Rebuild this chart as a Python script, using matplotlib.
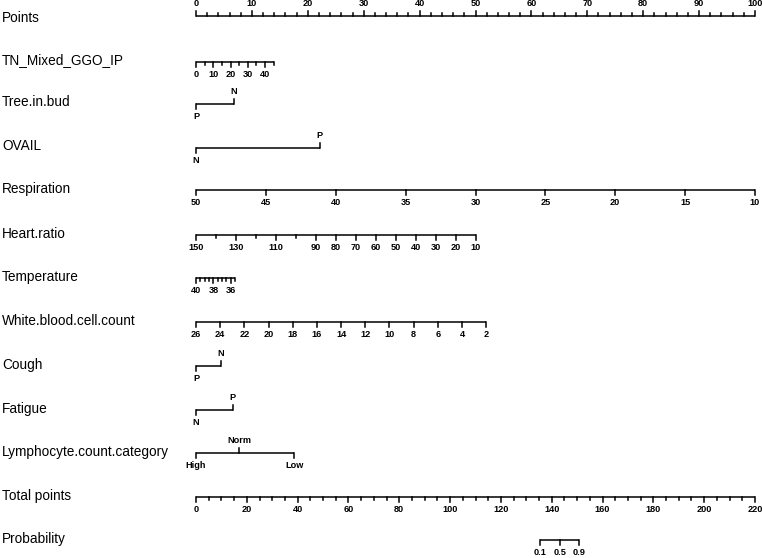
import matplotlib
matplotlib.use("Agg")
import matplotlib.pyplot as plt
import numpy as np

plt.rcParams["font.family"] = "Liberation Sans"

# ---- data ----
points_ticks = list(range(0, 101, 10))
points_minor = list(range(0, 101, 2))

tn_values = list(range(0, 46, 5)); tn_labels = [0, 10, 20, 30, 40]; tn_pts_end = (0.0, 13.9); tn_range = (0, 45)
tree_labels = ["P", "N"]; tree_pts = [0.0, 6.8]
ovail_labels = ["N", "P"]; ovail_pts = [0.0, 22.1]
resp_values = list(range(50, 9, -5)); resp_labels = list(range(50, 9, -5)); resp_range = (50, 10); resp_pts_end = (0.0, 100.0)
heart_values = list(range(150, 9, -10)); heart_labels = [150, 130, 110, 90, 80, 70, 60, 50, 40, 30, 20, 10]
heart_range = (150, 10); heart_pts_end = (0.0, 50.0)
temp_values = [40, 39.5, 39, 38.5, 38, 37.5, 37, 36.5, 36, 35.5]; temp_labels = [40, 38, 36]
temp_range = (40, 35.5); temp_pts_end = (0.0, 7.0)
wbc_values = list(range(26, 1, -2)); wbc_labels = list(range(26, 1, -2)); wbc_range = (26, 2); wbc_pts_end = (0.0, 51.9)
cough_labels = ["P", "N"]; cough_pts = [0.0, 4.5]
fatigue_labels = ["N", "P"]; fatigue_pts = [0.0, 6.6]
lymph_labels = ["High", "Norm", "Low"]; lymph_pts = [0.0, 7.7, 17.6]
total_ticks = list(range(0, 221, 20)); total_minor = list(range(0, 221, 5))
prob_labels = ["0.1", "0.5", "0.9"]; prob_total = [135.4, 143.2, 150.9]

row_names = ["Points", "TN_Mixed_GGO_IP", "Tree.in.bud", "OVAIL", "Respiration", "Heart.ratio",
             "Temperature", "White.blood.cell.count", "Cough", "Fatigue", "Lymphocyte.count.category",
             "Total points", "Probability"]

# ---- layout ----
fig = plt.figure(figsize=(7.62, 5.58), dpi=100)
ax = fig.add_axes([0, 0, 1, 1])
ax.set_xlim(0, 762); ax.set_ylim(558, 0); ax.axis("off")
X0, X1 = 196, 755
def px(p): return X0 + p * (X1 - X0) / 100.0
def tx(t): return X0 + t * (X1 - X0) / 220.0
row_y = [16, 62, 104, 148, 190, 235, 278, 322, 366, 410, 453, 497, 540]
label_y = [18, 60, 102, 146, 189, 234, 277, 321, 365, 409, 452, 496, 539]
LW = 1.1; TF = dict(fontsize=6.6, fontweight="bold", ha="center")
for n, y in zip(row_names, label_y):
    ax.text(2, y, n, fontsize=9.8, va="center", ha="left")

def hline(xa, xb, y): ax.plot([xa, xb], [y, y], color="black", lw=LW, solid_capstyle="butt")
def tick(x, y, L): ax.plot([x, x], [y, y + L], color="black", lw=LW)

def cont(y, values, labels, vrange, pend):
    def f(v): return px(pend[0] + (v - vrange[0]) / (vrange[1] - vrange[0]) * (pend[1] - pend[0]))
    hline(f(vrange[0]), f(vrange[1]), y)
    for v in values:
        tick(f(v), y, 5 if v in labels else 3)
    for v in labels:
        ax.text(f(v), y + 8, str(v), va="top", **TF)

def cat(y, labels, pts):
    hline(px(min(pts)), px(max(pts)), y)
    for i, (l, p) in enumerate(zip(labels, pts)):
        below = (i % 2 == 0)
        tick(px(p), y, 5 if below else -5)
        if below:
            ax.text(px(p), y + 8, l, va="top", **TF)
        else:
            ax.text(px(p), y - 8, l, va="bottom", **TF)

# Points
y = row_y[0]
hline(px(0), px(100), y)
for p in points_minor:
    tick(px(p), y, -5 if p in points_ticks else -3)
for p in points_ticks:
    ax.text(px(p), y - 8, str(p), va="bottom", **TF)

cont(row_y[1], tn_values, tn_labels, tn_range, tn_pts_end)
cat(row_y[2], tree_labels, tree_pts)
cat(row_y[3], ovail_labels, ovail_pts)
cont(row_y[4], resp_values, resp_labels, resp_range, resp_pts_end)
cont(row_y[5], heart_values, heart_labels, heart_range, heart_pts_end)
cont(row_y[6], temp_values, temp_labels, temp_range, temp_pts_end)
cont(row_y[7], wbc_values, wbc_labels, wbc_range, wbc_pts_end)
cat(row_y[8], cough_labels, cough_pts)
cat(row_y[9], fatigue_labels, fatigue_pts)
cat(row_y[10], lymph_labels, lymph_pts)

# Total points
y = row_y[11]
hline(tx(0), tx(220), y)
for t in total_minor:
    tick(tx(t), y, 5 if t in total_ticks else 3)
for t in total_ticks:
    ax.text(tx(t), y + 8, str(t), va="top", **TF)

# Probability
y = row_y[12]
hline(tx(prob_total[0]), tx(prob_total[-1]), y)
for l, t in zip(prob_labels, prob_total):
    tick(tx(t), y, 5)
    ax.text(tx(t), y + 8, l, va="top", **TF)

fig.savefig("out.png", dpi=100)
